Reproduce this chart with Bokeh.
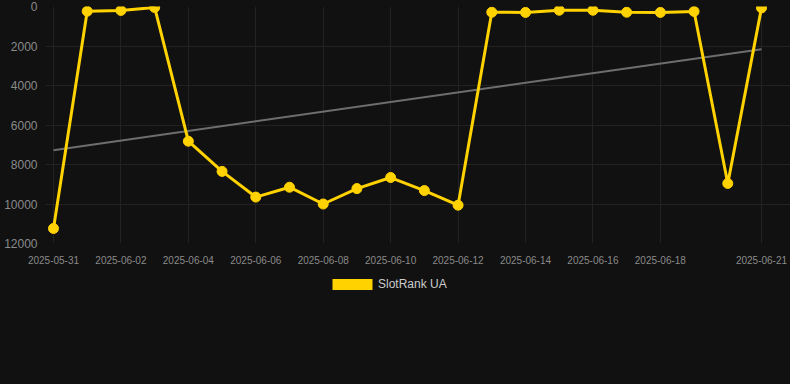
from datetime import datetime
import re
import numpy as np
from bokeh.plotting import figure
from bokeh.layouts import column
from bokeh.models import (ColumnDataSource, Range1d, FixedTicker, DatetimeTickFormatter,
                          Legend, LegendItem)
from bokeh.embed import file_html
from bokeh.resources import INLINE

# ---- data ----
dates = ["2025-05-31", "2025-06-01", "2025-06-02", "2025-06-03", "2025-06-04", "2025-06-05",
         "2025-06-06", "2025-06-07", "2025-06-08", "2025-06-09", "2025-06-10", "2025-06-11",
         "2025-06-12", "2025-06-13", "2025-06-14", "2025-06-15", "2025-06-16", "2025-06-17",
         "2025-06-18", "2025-06-19", "2025-06-20", "2025-06-21"]
ranks = [11240, 240, 200, 50, 6820, 8350, 9650, 9150, 10000, 9220, 8660, 9320,
         10060, 290, 300, 190, 190, 290, 300, 250, 8960, 70]
tick_dates = ["2025-05-31", "2025-06-02", "2025-06-04", "2025-06-06", "2025-06-08",
              "2025-06-10", "2025-06-12", "2025-06-14", "2025-06-16", "2025-06-18",
              "2025-06-21"]
y_ticks = [0, 2000, 4000, 6000, 8000, 10000, 12000]
series_name = "SlotRank UA"

GOLD = "#FFD200"
BG = "#111111"
GRID = "#222222"
LABEL = "#8a8a8a"

def ms(s):
    return datetime.strptime(s, "%Y-%m-%d").timestamp() * 1000.0

x_ms = np.array([ms(d) for d in dates])
DAY = 86400000.0

# linear trend (least squares)
days = (x_ms - x_ms[0]) / DAY
k, b = np.polyfit(days, np.array(ranks, dtype=float), 1)
trend_x = [x_ms[0], x_ms[-1]]
trend_y = [b, b + k * days[-1]]

bg_style = {"background-color": BG}

p = figure(width=790, height=270, x_axis_type="datetime", output_backend="svg",
           toolbar_location=None, styles=bg_style,
           x_range=Range1d(x_ms[0] - 0.237 * DAY, x_ms[0] + 21.86 * DAY),
           y_range=Range1d(12000, 0),
           min_border_left=45, min_border_right=0, min_border_top=6, min_border_bottom=27)
p.background_fill_color = BG
p.border_fill_color = None
p.outline_line_color = None

p.xgrid.grid_line_color = GRID
p.ygrid.grid_line_color = GRID

p.xaxis.ticker = FixedTicker(ticks=[ms(d) for d in tick_dates])
p.xaxis.formatter = DatetimeTickFormatter(days="%Y-%m-%d", months="%Y-%m-%d")
p.yaxis.ticker = FixedTicker(ticks=y_ticks)

for ax in (p.xaxis, p.yaxis):
    ax.axis_line_color = None
    ax.major_tick_line_color = None
    ax.minor_tick_line_color = None
    ax.major_label_text_color = LABEL
    ax.major_label_text_font = "Liberation Sans"
p.xaxis.major_label_text_font_size = "10px"
p.yaxis.major_label_text_font_size = "12px"
p.xaxis.major_label_standoff = 6
p.yaxis.major_label_standoff = 2

src = ColumnDataSource(data=dict(x=x_ms, y=ranks))
p.line(trend_x, trend_y, line_color="#6e6e6e", line_width=2)
p.line("x", "y", source=src, line_color=GOLD, line_width=3)
p.scatter("x", "y", source=src, size=10, fill_color=GOLD, line_color=GOLD)

# legend strip
lg = figure(width=790, height=114, output_backend="svg", toolbar_location=None,
            styles=bg_style,
            x_axis_location=None, y_axis_location=None,
            x_range=Range1d(0, 1), y_range=Range1d(0, 1),
            min_border=0, min_border_left=0, min_border_right=0,
            min_border_top=0, min_border_bottom=0)
lg.background_fill_color = BG
lg.border_fill_color = None
lg.outline_line_color = None
lg.xgrid.visible = False
lg.ygrid.visible = False
box = lg.quad(left=[0], right=[0], top=[0], bottom=[0],
              fill_color=GOLD, line_color=None)
legend = Legend(items=[LegendItem(label=series_name, renderers=[box])],
                location=(282, 93), orientation="horizontal",
                glyph_width=50, glyph_height=14,
                label_text_font="Liberation Sans", label_text_font_size="12px",
                label_text_color="#cccccc", background_fill_alpha=0,
                border_line_color=None, padding=0, margin=0, label_standoff=1)
lg.add_layout(legend, "center")

layout = column(p, lg, spacing=0, styles=bg_style)
html = file_html(layout, INLINE)
css = "<style>html,body{margin:0;padding:0;background:#111111 !important;}</style>"
html = re.sub(r"</head>", css + "</head>", html, count=1)
open("out.html", "w").write(html)
